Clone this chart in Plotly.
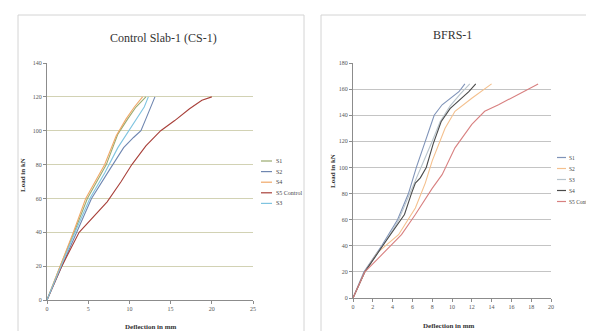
import plotly.graph_objects as go

W, H = 594, 331

# ---------------- Data: Control Slab-1 (CS-1) ----------------
cs_names = ["S1", "S2", "S4", "S5 Control", "S3"]
cs_colors = ["#9aab6f", "#6f86b0", "#f0a868", "#a8403a", "#7fc4e0"]
cs_s1_x = [0, 1.6, 3.3, 4.9, 7.2, 8.6, 9.8, 10.8, 12.0]
cs_s1_y = [0, 20, 40, 60, 80, 98, 107, 114, 120]
cs_s2_x = [0, 1.8, 3.6, 5.4, 7.6, 9.3, 10.5, 11.4, 12.0, 13.1]
cs_s2_y = [0, 20, 40, 60, 77, 90, 96, 100, 107, 120]
cs_s4_x = [0, 1.6, 3.2, 4.7, 7.0, 8.4, 9.6, 10.6, 11.6]
cs_s4_y = [0, 20, 40, 60, 80, 97, 107, 114, 120]
cs_s5_x = [0, 1.8, 3.9, 5.8, 7.3, 9.0, 10.3, 12.0, 13.8, 15.5, 17.3, 18.8, 20.0]
cs_s5_y = [0, 20, 40, 50, 58, 70, 80, 91, 100, 106, 113, 118, 120]
cs_s3_x = [0, 1.7, 3.4, 5.2, 7.0, 8.6, 10.6, 11.8, 12.3]
cs_s3_y = [0, 20, 40, 60, 75, 90, 105, 114, 120]
cs_series = [(cs_s1_x, cs_s1_y), (cs_s2_x, cs_s2_y), (cs_s4_x, cs_s4_y),
             (cs_s5_x, cs_s5_y), (cs_s3_x, cs_s3_y)]

# ---------------- Data: BFRS-1 ----------------
bf_names = ["S1", "S2", "S3", "S4", "S5 Control"]
bf_colors = ["#7f93b8", "#f4c08e", "#b8c4cc", "#4a4a4a", "#d88080"]
bf_s1_x = [0, 1.1, 2.9, 4.5, 5.6, 6.4, 7.3, 8.2, 9.0, 9.8, 10.7, 11.3]
bf_s1_y = [0, 20, 40, 60, 80, 100, 120, 140, 148, 153, 158, 164]
bf_s2_x = [0, 1.2, 2.5, 3.3, 4.6, 6.3, 7.3, 8.0, 9.3, 10.3, 12.0, 14.0]
bf_s2_y = [0, 20, 35, 40, 48.5, 69, 88, 105, 130, 143, 153, 164]
bf_s3_x = [0, 1.2, 3.0, 4.5, 5.4, 6.3, 7.2, 8.0, 8.8, 9.8, 10.8, 11.8]
bf_s3_y = [0, 20, 40, 58, 74, 90, 105, 120, 135, 147, 156, 164]
bf_s4_x = [0, 1.2, 3.0, 4.4, 5.2, 5.9, 6.3, 6.8, 7.4, 8.1, 8.9, 9.8, 10.8, 11.7, 12.4]
bf_s4_y = [0, 20, 40, 55, 64, 80, 88, 92, 100, 118, 135, 145, 152, 158, 164]
bf_s5_x = [0, 1.2, 2.5, 3.3, 4.9, 6.3, 8.0, 9.0, 10.3, 12.0, 13.3, 14.7, 16.7, 18.7]
bf_s5_y = [0, 20, 30, 36, 48.5, 64, 84, 94.5, 115, 133, 143, 148, 155.7, 164]
bf_series = [(bf_s1_x, bf_s1_y), (bf_s2_x, bf_s2_y), (bf_s3_x, bf_s3_y),
             (bf_s4_x, bf_s4_y), (bf_s5_x, bf_s5_y)]

cs_title = "Control Slab-1 (CS-1)"
bf_title = "BFRS-1"
x_title = "Deflection in mm"
y_title = "Load in kN"


def fx(p):
    return p / W


def fy(p):
    return 1 - p / H


fig = go.Figure()

for (xs, ys), name, col in zip(cs_series, cs_names, cs_colors):
    fig.add_trace(go.Scatter(x=xs, y=ys, name=name, mode="lines",
                             line=dict(color=col, width=1.1),
                             xaxis="x", yaxis="y", showlegend=False))
for (xs, ys), name, col in zip(bf_series, bf_names, bf_colors):
    fig.add_trace(go.Scatter(x=xs, y=ys, name=name, mode="lines",
                             line=dict(color=col, width=1.1),
                             xaxis="x2", yaxis="y2", showlegend=False))

tickfont = dict(family="Liberation Serif", size=6, color="#555555")
axis_common = dict(showline=True, linecolor="#8c8c8c", linewidth=1,
                   ticks="outside", ticklen=3, tickcolor="#8c8c8c",
                   tickfont=tickfont, zeroline=False, automargin=False)

fig.update_layout(
    width=W, height=H,
    margin=dict(l=0, r=0, t=0, b=0),
    paper_bgcolor="white", plot_bgcolor="rgba(0,0,0,0)",
    showlegend=False,
    xaxis=dict(domain=[fx(39), fx(245)], range=[0, 25], dtick=5,
               showgrid=False, anchor="y", **axis_common),
    yaxis=dict(domain=[fy(292), fy(55)], range=[0, 140], dtick=20,
               showgrid=True, gridcolor="#d2d2b4", gridwidth=1,
               anchor="x", **axis_common),
    xaxis2=dict(domain=[fx(345), fx(543)], range=[0, 20], dtick=2,
                showgrid=False, anchor="y2", **axis_common),
    yaxis2=dict(domain=[fy(290), fy(55)], range=[0, 180], dtick=20,
                showgrid=True, gridcolor="#c4c4c4", gridwidth=1,
                anchor="x2", **axis_common),
)

shapes = [
    dict(type="rect", xref="paper", yref="paper",
         x0=fx(10), x1=fx(296), y0=fy(329), y1=fy(7),
         line=dict(color="#d4d4d4", width=1), layer="below"),
    dict(type="rect", xref="paper", yref="paper",
         x0=fx(313), x1=fx(586), y0=fy(329), y1=fy(7),
         line=dict(color="#d4d4d4", width=1), layer="below"),
]

title_font = dict(family="Liberation Serif", size=12, color="#333333")
lab_font = dict(family="Liberation Serif", size=7, color="#333333")


def ann(text, x, y, font, **kw):
    d = dict(text=text, x=fx(x), y=fy(y), xref="paper", yref="paper",
             xanchor="center", yanchor="middle", showarrow=False, font=font)
    d.update(kw)
    return d


annotations = [
    ann(cs_title, 155, 30, title_font),
    ann(bf_title, 444, 27, title_font),
    ann("<b>" + x_title + "</b>", 142, 319, lab_font),
    ann("<b>" + x_title + "</b>", 440, 318, lab_font),
    ann("<b>" + y_title + "</b>", 15, 167, lab_font, textangle=-90),
    ann("<b>" + y_title + "</b>", 325, 163, lab_font, textangle=-90),
]

# manual legends
leg_font = dict(family="Liberation Serif", size=6, color="#444444")
leg_font2 = dict(family="Liberation Serif", size=5.5, color="#444444")
for i, (name, col) in enumerate(zip(cs_names, cs_colors)):
    yy = 153 + i * 10.6
    shapes.append(dict(type="line", xref="paper", yref="paper",
                       x0=fx(253), x1=fx(264), y0=fy(yy), y1=fy(yy),
                       line=dict(color=col, width=1.2)))
    annotations.append(ann(name, 266, yy, leg_font, xanchor="left"))
for i, (name, col) in enumerate(zip(bf_names, bf_colors)):
    yy = 149.5 + i * 11
    shapes.append(dict(type="line", xref="paper", yref="paper",
                       x0=fx(549), x1=fx(558), y0=fy(yy), y1=fy(yy),
                       line=dict(color=col, width=1.2)))
    annotations.append(ann(name, 559, yy, leg_font2, xanchor="left"))

fig.update_layout(shapes=shapes, annotations=annotations)
fig.write_html("out.html")
